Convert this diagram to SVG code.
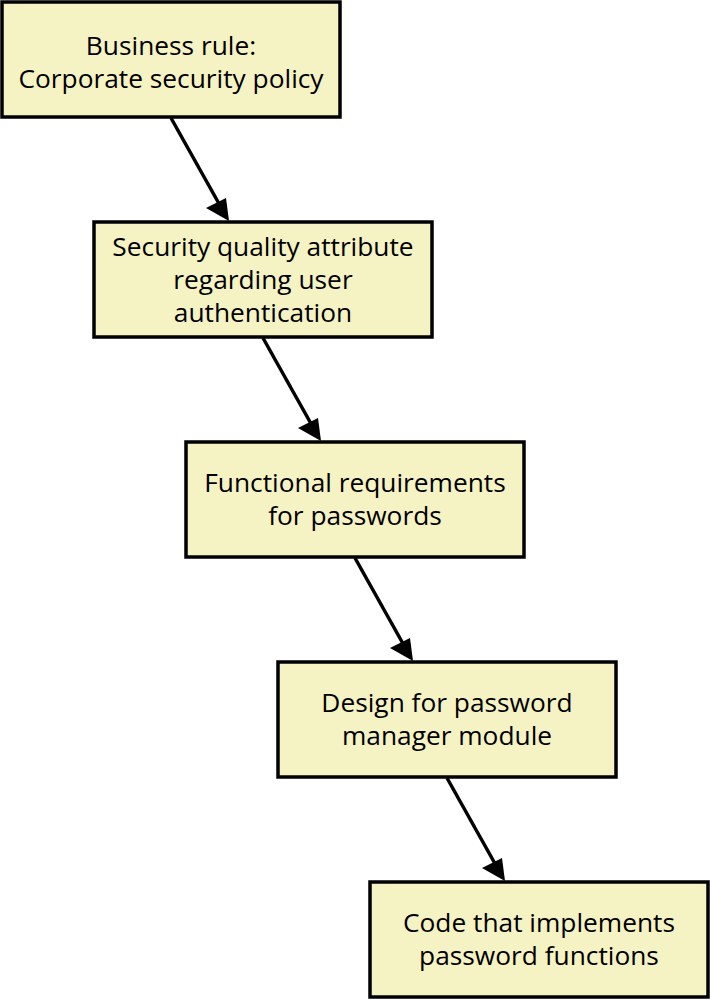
<svg xmlns="http://www.w3.org/2000/svg" width="710" height="1000" viewBox="0 0 710 1000">
<defs>
<style>
.box{fill:#F5F3C3;stroke:#000;stroke-width:3.5}
.t{font-family:"Open Sans","Noto Sans",sans-serif;font-size:26.3px;fill:#000;text-anchor:middle}
.c{stroke:#000;stroke-width:3.5;fill:none}
</style>
</defs>
<rect width="710" height="1000" fill="#fff"/>
<g id="connectors">
<line class="c" x1="171" y1="118" x2="222" y2="209"/>
<polygon points="229,221 206,208 226,198" fill="#000"/>
<line class="c" x1="263" y1="338" x2="314" y2="429"/>
<polygon points="321,441 298,428 318,418" fill="#000"/>
<line class="c" x1="355" y1="558" x2="406" y2="649"/>
<polygon points="413,661 390,648 410,638" fill="#000"/>
<line class="c" x1="447" y1="778" x2="498" y2="869"/>
<polygon points="505,881 482,868 502,858" fill="#000"/>
</g>
<g id="n1">
<rect class="box" x="2" y="2" width="338" height="115"/>
<text class="t" x="171" y="55">Business rule:</text>
<text class="t" x="171" y="88">Corporate security policy</text>
</g>
<g id="n2">
<rect class="box" x="94" y="222" width="338" height="115"/>
<text class="t" x="263" y="256">Security quality attribute</text>
<text class="t" x="263" y="289">regarding user</text>
<text class="t" x="263" y="322">authentication</text>
</g>
<g id="n3">
<rect class="box" x="186" y="442" width="338" height="115"/>
<text class="t" x="355" y="492">Functional requirements</text>
<text class="t" x="355" y="525">for passwords</text>
</g>
<g id="n4">
<rect class="box" x="278" y="662" width="338" height="115"/>
<text class="t" x="447" y="712">Design for password</text>
<text class="t" x="447" y="745">manager module</text>
</g>
<g id="n5">
<rect class="box" x="370" y="882" width="338" height="115"/>
<text class="t" x="539" y="932">Code that implements</text>
<text class="t" x="539" y="965">password functions</text>
</g>
</svg>
